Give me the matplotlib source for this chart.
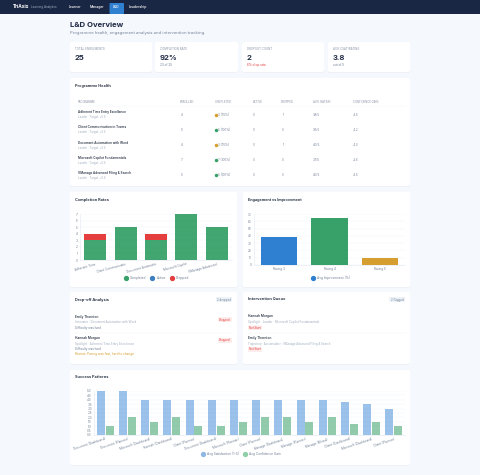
import matplotlib as mpl
mpl.use("Agg")
import matplotlib.pyplot as plt
from matplotlib.lines import Line2D
from matplotlib.patches import FancyBboxPatch, Rectangle

mpl.rc('font', family=['Inter', 'DejaVu Sans'], size=3)

# data
nav_items = ["Learner", "Manager", "L&D", "Leadership"]
kpi_labels = ["TOTAL ENROLMENTS", "COMPLETION RATE", "DROPOUT COUNT", "AVG CSAT/RATING"]
kpi_values = ["25", "92%", "2", "3.8"]
kpi_subs = ["", "23 of 25", "8% drop rate", "out of 5"]

table_headers = ["PROGRAMME", "ENROLLED", "COMPLETED", "ACTIVE", "DROPPED", "AVG. RATING", "CONFIDENCE GAIN"]
prog_names = ["Adherent Time Entry Excellence", "Client Communication in Teams",
              "Document Automation with Word", "Microsoft Copilot Fundamentals",
              "VManage Advanced Filing & Search"]
prog_subs = ["Leader · Target: +0.8", "Leader · Target: +0.8", "Leader · Target: +0.8",
             "Leader · Target: +0.8", "Leader · Target: +0.8"]
enrolled = [4, 5, 4, 7, 5]
completed_txt = ["3 (75%)", "5 (100%)", "3 (75%)", "7 (100%)", "5 (100%)"]
active_n = [0, 0, 0, 0, 0]
dropped_n = [1, 0, 1, 0, 0]
avg_rating = ["3.8/5", "3.6/5", "4.0/5", "3.7/5", "4.0/5"]
conf_gain = ["+1.5", "+1.2", "+1.0", "+1.6", "+1.5"]

comp_labels = ["Adherent Time", "Client Communicatio", "Document Automatio", "Microsoft Copilot", "VManage Advanced"]
comp_done = [3, 5, 3, 7, 5]
comp_active = [0, 0, 0, 0, 0]
comp_drop = [1, 0, 1, 0, 0]

eng_labels = ["Rating 3", "Rating 4", "Rating 5"]
eng_values = [38, 64, 10]

pat_labels = ["Document (Dashboard)", "Document (Planner)", "Microsoft (Dashboard)", "Hannah (Dashboard)",
              "Client (Planner)", "Document (Dashboard)", "Microsoft (Planner)", "Client (Planner)",
              "Manage (Dashboard)", "Manage (Planner)", "Manage (Mixed)", "Client (Dashboard)",
              "Microsoft (Dashboard)", "Client (Planner)"]
pat_rating = [5, 5, 4, 4, 4, 4, 4, 4, 4, 4, 4, 3.7, 3.5, 3]
pat_conf = [1, 2, 1.5, 2, 1, 1, 1.5, 2, 2, 1.5, 2, 1.3, 1.5, 1]

NAVY = "#1a2744"
BLUE = "#2f80d0"
GREEN = "#38a169"
RED = "#e53e3e"
AMBER = "#d69e2e"
DARK = "#2d3748"
GREY = "#a0aec0"


def card(x0, y0, x1, y1):
  page.add_patch(FancyBboxPatch((x0, y0+0.6), x1-x0, y1-y0, boxstyle="round,pad=0,rounding_size=2",
                                fc="#e9eef5", ec="none", zorder=1))
  page.add_patch(FancyBboxPatch((x0, y0), x1-x0, y1-y0, boxstyle="round,pad=0,rounding_size=2",
                                fc="white", ec="none", zorder=2))


def txt(x, y, s, size=3, color=DARK, weight="normal", ha="left"):
  page.text(x, y, s, fontsize=size, color=color, fontweight=weight, ha=ha, va="center", zorder=5)


def pill(x0, y0, x1, y1, s, fc, color):
  page.add_patch(FancyBboxPatch((x0, y0), x1-x0, y1-y0, boxstyle="round,pad=0,rounding_size=1",
                                fc=fc, ec="none", zorder=4))
  txt((x0+x1)/2., (y0+y1)/2., s, size=2, color=color, ha="center")


def chart_axes(x0, y0, x1, y1):
  ax = fig.add_axes([x0/480., 1-y1/475., (x1-x0)/480., (y1-y0)/475.], zorder=10)
  ax.patch.set_alpha(0)
  for side in ["top", "right"]:
    ax.spines[side].set_visible(False)
  for side in ["left", "bottom"]:
    ax.spines[side].set_color("#e2e8f0")
    ax.spines[side].set_linewidth(0.4)
  ax.grid(axis="y", color="#edf1f6", linewidth=0.3)
  ax.set_axisbelow(True)
  ax.tick_params(length=0, labelsize=2.2, labelcolor="#718096", pad=1.5)
  return ax


def dot_legend(ax, names, colors, x=0.5, y=-0.3):
  handles = [Line2D([], [], marker="o", ls="none", ms=2.8, color=c) for c in colors]
  ax.legend(handles, names, loc="center", bbox_to_anchor=(x, y), ncol=len(names), frameon=False,
            fontsize=2.3, labelcolor="#718096", handletextpad=0.3, columnspacing=0.9)


fig = plt.figure(figsize=(4.8, 4.75), dpi=100, facecolor="#f5f8fc")
page = fig.add_axes([0, 0, 1, 1])
page.set_xlim(0, 480)
page.set_ylim(475, 0)
page.axis("off")

# nav bar
page.add_patch(Rectangle((0, 0), 480, 14, fc=NAVY, ec="none", zorder=1))
txt(13, 7, "TriAxis", size=3.4, color="white", weight="bold")
txt(31, 7.2, "Learning Analytics", size=2.1, color="#a0aec0")
page.add_patch(FancyBboxPatch((109.5, 3), 14.5, 11, boxstyle="round,pad=0,rounding_size=1",
                              fc=BLUE, ec="none", zorder=2))
for nx, name in zip([69, 90, 116.5, 129], nav_items):
  txt(nx, 7.3, name, size=2.5, color="white", ha="center" if name == "L&D" else "left", weight="medium")

# page title
txt(70, 25, "L&D Overview", size=5.6, weight="bold", color="#1f2a44")
txt(70, 33, "Programme health, engagement analysis and intervention tracking.", size=3, color="#718096")

# kpi row
kpi_x = [(70, 152), (155, 238), (242, 324), (328, 410)]
for i, (x0, x1) in enumerate(kpi_x):
  card(x0, 42, x1, 72)
  txt(x0+5, 48.5, kpi_labels[i], size=2.1, color="#8a94a6")
  txt(x0+5, 57.5, kpi_values[i], size=5.5, weight="bold", color="#1f2a44")
  txt(x0+5, 65, kpi_subs[i], size=2.2, color=RED if i == 2 else "#718096")

# programme table
card(70, 78, 410, 186)
txt(75, 85.5, "Programme Health", size=2.8, weight="bold")
col_x = [78, 180, 215, 253, 281, 313, 353]
for cx, head in zip(col_x, table_headers):
  txt(cx, 102, head, size=2, color="#8a94a6")
page.plot([74, 406], [106, 106], color="#edf1f6", lw=0.3, zorder=3)
for i in range(5):
  y = 112.3+15.1*i
  txt(78, y, prog_names[i], size=2.2, weight="semibold")
  txt(78, y+5, prog_subs[i], size=2, color=GREY)
  txt(182, y+2.5, str(enrolled[i]), size=2.1, color="#718096", ha="center")
  dot = AMBER if comp_drop[i] > 0 else GREEN
  page.plot([215.5], [y+2.5], "o", ms=1.5, color=dot, zorder=5)
  txt(218, y+2.5, completed_txt[i], size=2.1, color="#718096")
  txt(254, y+2.5, str(active_n[i]), size=2.1, color="#718096", ha="center")
  txt(283, y+2.5, str(dropped_n[i]), size=2.1, color="#718096", ha="center")
  txt(313, y+2.5, avg_rating[i], size=2.1, color="#718096")
  txt(353, y+2.5, conf_gain[i], size=2.1, color="#718096")

# completion chart
card(70, 192, 237, 287)
txt(75, 199.5, "Completion Rates", size=2.8, weight="bold")
ax = chart_axes(80, 214, 232, 260)
xs = range(len(comp_labels))
ax.bar(xs, comp_done, width=0.72, color=GREEN, alpha=0.95)
ax.bar(xs, comp_active, width=0.72, bottom=comp_done, color=BLUE)
ax.bar(xs, comp_drop, width=0.72, bottom=[a+b for a, b in zip(comp_done, comp_active)], color=RED)
ax.set_ylim(0, 7)
ax.set_xlim(-0.5, 4.5)
ax.set_yticks(range(8))
ax.set_xticks(list(xs))
ax.set_xticklabels(comp_labels, rotation=15, ha="right", rotation_mode="anchor")
dot_legend(ax, ["Completed", "Active", "Dropped"], [GREEN, "#3f7fbf", RED], y=-0.39)

# engagement chart
card(243, 192, 410, 287)
txt(248, 199.5, "Engagement vs Improvement", size=2.7, weight="bold")
ax = chart_axes(254, 214, 405, 265)
ax.bar(range(3), eng_values, width=0.72, color=[BLUE, GREEN, AMBER])
ax.set_ylim(0, 70)
ax.set_xlim(-0.5, 2.5)
ax.set_yticks(range(0, 71, 10))
ax.set_xticks(range(3))
ax.set_xticklabels(eng_labels)
dot_legend(ax, ["Avg Improvement (%)"], [BLUE], y=-0.25)

# drop-off list
card(70, 292, 237, 364)
txt(75, 299.5, "Drop-off Analysis", size=2.8, weight="bold")
pill(216, 297, 232, 302, "2 dropped", "#edf2f7", "#718096")
txt(75, 317, "Emily Thornton", size=2.3, weight="semibold")
txt(75, 322, "Innovator · Document Automation with Word", size=2.1, color=GREY)
txt(75, 328, "Difficulty was hard", size=2.1, color="#718096")
pill(218, 317, 232, 322, "Dropped", "#fdecec", RED)
page.plot([74, 233], [333, 333], color="#f1f4f8", lw=0.3, zorder=3)
txt(75, 338.5, "Hannah Morgan", size=2.3, weight="semibold")
txt(75, 343.5, "Spotlight · Adherent Time Entry Excellence", size=2.1, color=GREY)
txt(75, 349, "Difficulty was hard", size=2.1, color="#718096")
txt(75, 354, "Review: Pacing was fast, hard to change", size=2.2, color=AMBER)
pill(218, 338, 232, 343, "Dropped", "#fdecec", RED)

# intervention list
card(243, 292, 410, 364)
txt(248, 299.5, "Intervention Queue", size=2.8, weight="bold")
pill(389, 297, 405, 302, "2 flagged", "#edf2f7", "#718096")
txt(248, 316.5, "Hannah Morgan", size=2.3, weight="semibold")
txt(248, 321.5, "Spotlight · Leader · Microsoft Copilot Fundamentals", size=2.1, color=GREY)
pill(248, 325.5, 262, 330, "Not Start", "#fdecec", RED)
page.plot([247, 406], [333, 333], color="#f1f4f8", lw=0.3, zorder=3)
txt(248, 338, "Emily Thornton", size=2.3, weight="semibold")
txt(248, 343.5, "Trajectory · Accumulator · VManage Advanced Filing & Search", size=2, color=GREY)
pill(248, 347, 262, 352, "Not Start", "#fdecec", RED)

# success patterns
card(70, 370, 410, 465)
txt(75, 376.5, "Success Patterns", size=2.8, weight="bold")
ax = chart_axes(94, 391, 405, 435)
pos = list(range(len(pat_labels)))
ax.bar([p-0.2 for p in pos], pat_rating, width=0.36, color="#4a90d9", alpha=0.55)
ax.bar([p+0.2 for p in pos], pat_conf, width=0.36, color=GREEN, alpha=0.55)
ax.set_ylim(0, 5)
ax.set_xlim(-0.5, 13.5)
ax.set_yticks([v*0.5 for v in range(11)])
ax.set_yticklabels(["%.1f" % (v*0.5) for v in range(11)])
ax.set_xticks(pos)
ax.set_xticklabels(pat_labels, rotation=18, ha="right", rotation_mode="anchor")
dot_legend(ax, ["Avg Satisfaction (1-5)", "Avg Confidence Gain"], ["#8fb8e3", "#8fcfa9"], x=0.47, y=-0.43)

fig.savefig("out.png", dpi=100, facecolor=fig.get_facecolor())
